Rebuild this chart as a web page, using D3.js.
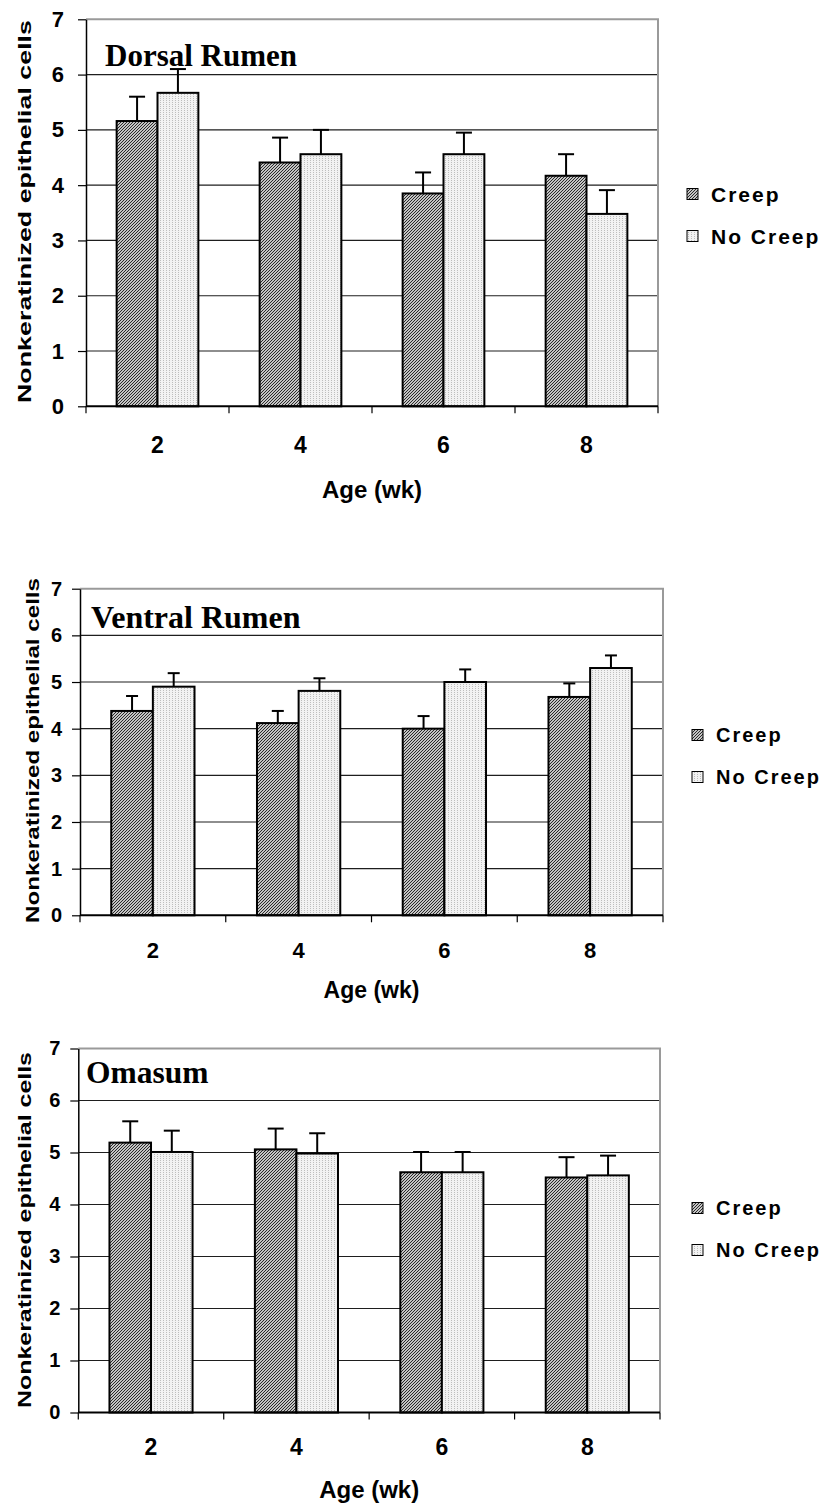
<!DOCTYPE html>
<html>
<head>
<meta charset="utf-8">
<script src="https://cdn.jsdelivr.net/npm/d3@7"></script>
<style>
  html, body { margin: 0; padding: 0; background: #fff; }
  svg { display: block; }
  text { font-family: "Liberation Sans", Arial, sans-serif; font-weight: bold; fill: #000; }
  .title { font-family: "Liberation Serif", "Times New Roman", serif; }
</style>
</head>
<body>
<svg id="chart" width="832" height="1503"></svg>
<script>
// Age groups and treatment series
const ages = ["2", "4", "6", "8"];
const series = ["Creep", "No Creep"];
const yTicks = [0, 1, 2, 3, 4, 5, 6, 7];

// Nonkeratinized epithelial cells, means and upper error (SE)
const dorsalCreep = [5.16, 4.41, 3.85, 4.17];
const dorsalCreepErr = [0.44, 0.45, 0.38, 0.39];
const dorsalNoCreep = [5.67, 4.56, 4.56, 3.48];
const dorsalNoCreepErr = [0.43, 0.44, 0.39, 0.43];

const ventralCreep = [4.38, 4.12, 4.00, 4.68];
const ventralCreepErr = [0.32, 0.26, 0.27, 0.29];
const ventralNoCreep = [4.90, 4.81, 5.00, 5.30];
const ventralNoCreepErr = [0.29, 0.27, 0.27, 0.27];

const omasumCreep = [5.19, 5.06, 4.62, 4.52];
const omasumCreepErr = [0.41, 0.40, 0.39, 0.39];
const omasumNoCreep = [5.01, 4.98, 4.62, 4.56];
const omasumNoCreepErr = [0.41, 0.39, 0.39, 0.38];

const titles = ["Dorsal Rumen", "Ventral Rumen", "Omasum"];
const yLabel = "Nonkeratinized epithelial cells";
const xLabel = "Age (wk)";

// Panel layout
const layouts = [
  { l: 86, r: 658, t: 19.3, b: 406.3, titleX: 105, titleY: 65.7, titleSize: 31,
    yLabX: 31, yLabFrom: 20, yLabTo: 403, yLabSize: 18, yTickSize: 22, yTickPad: 14,
    xTickY: 453, xTickSize: 23, xLabY: 498, xLabSize: 24,
    legX: 687, legY: [194, 236], legSize: 21, cap: 16 },
  { l: 80, r: 663, t: 588.7, b: 915.3, titleX: 91, titleY: 627.7, titleSize: 32,
    yLabX: 39, yLabFrom: 578, yLabTo: 923, yLabSize: 18, yTickSize: 20, yTickPad: 10,
    xTickY: 958, xTickSize: 22, xLabY: 998, xLabSize: 23,
    legX: 692, legY: [735, 777], legSize: 20, cap: 12 },
  { l: 78.3, r: 660, t: 1048.5, b: 1412.5, titleX: 86, titleY: 1082.7, titleSize: 31.5,
    yLabX: 31, yLabFrom: 1052, yLabTo: 1408, yLabSize: 19, yTickSize: 20, yTickPad: 10,
    xTickY: 1455, xTickSize: 23, xLabY: 1498, xLabSize: 24,
    legX: 692, legY: [1208, 1250], legSize: 20, cap: 16 }
];

const panelData = [
  [[dorsalCreep, dorsalCreepErr], [dorsalNoCreep, dorsalNoCreepErr]],
  [[ventralCreep, ventralCreepErr], [ventralNoCreep, ventralNoCreepErr]],
  [[omasumCreep, omasumCreepErr], [omasumNoCreep, omasumNoCreepErr]]
];

const svg = d3.select("#chart");
svg.append("rect").attr("width", 832).attr("height", 1503).attr("fill", "#fff");

// Fill patterns: fine dark diagonal hatch for Creep, light stipple for No Creep
const defs = svg.append("defs");
const hatch = defs.append("pattern").attr("id", "pat-creep")
  .attr("patternUnits", "userSpaceOnUse").attr("width", 3).attr("height", 3);
hatch.append("rect").attr("width", 3).attr("height", 3).attr("fill", "#c4c4c4");
hatch.append("path").attr("d", "M-1,1 L1,-1 M0,3 L3,0 M2,4 L4,2")
  .attr("stroke", "#2a2a2a").attr("stroke-width", 1);

const stip = defs.append("pattern").attr("id", "pat-nocreep")
  .attr("patternUnits", "userSpaceOnUse").attr("width", 3).attr("height", 2);
stip.append("rect").attr("width", 3).attr("height", 2).attr("fill", "#f2f2f2");
stip.append("rect").attr("x", 1).attr("y", 0).attr("width", 1).attr("height", 1).attr("fill", "#bdbdbd");

const fills = ["url(#pat-creep)", "url(#pat-nocreep)"];

layouts.forEach((L, pi) => {
  const g = svg.append("g");
  const y = d3.scaleLinear().domain([0, 7]).range([L.b, L.t]);
  const x0 = d3.scaleBand().domain(ages).range([L.l, L.r]).padding(0);
  const x1 = d3.scaleBand().domain(series).range([0, x0.bandwidth()])
    .paddingInner(0).paddingOuter(0.75);

  // Horizontal gridlines
  g.append("g").selectAll("line").data(yTicks.filter(v => v > 0 && v < 7)).join("line")
    .attr("x1", L.l).attr("x2", L.r)
    .attr("y1", d => y(d)).attr("y2", d => y(d))
    .attr("stroke", "#1e1e1e").attr("stroke-width", 1.2);

  // Plot-area border (top and right)
  g.append("path")
    .attr("d", `M${L.l},${y(7)} H${L.r} V${y(0)}`)
    .attr("fill", "none").attr("stroke", "#9a9a9a").attr("stroke-width", 2);

  // Bars
  const rows = [];
  panelData[pi].forEach(([vals, errs], si) => {
    vals.forEach((v, i) => rows.push({ age: ages[i], s: series[si], si, v, e: errs[i] }));
  });
  g.append("g").selectAll("rect").data(rows).join("rect")
    .attr("x", d => x0(d.age) + x1(d.s))
    .attr("y", d => y(d.v))
    .attr("width", x1.bandwidth())
    .attr("height", d => y(0) - y(d.v))
    .attr("fill", d => fills[d.si])
    .attr("stroke", "#000").attr("stroke-width", 2);

  // Error bars (upper)
  const eb = g.append("g").attr("stroke", "#000").attr("stroke-width", 2);
  eb.selectAll("line.v").data(rows).join("line").attr("class", "v")
    .attr("x1", d => x0(d.age) + x1(d.s) + x1.bandwidth() / 2)
    .attr("x2", d => x0(d.age) + x1(d.s) + x1.bandwidth() / 2)
    .attr("y1", d => y(d.v)).attr("y2", d => y(d.v + d.e));
  eb.selectAll("line.c").data(rows).join("line").attr("class", "c")
    .attr("x1", d => x0(d.age) + x1(d.s) + x1.bandwidth() / 2 - L.cap / 2)
    .attr("x2", d => x0(d.age) + x1(d.s) + x1.bandwidth() / 2 + L.cap / 2)
    .attr("y1", d => y(d.v + d.e)).attr("y2", d => y(d.v + d.e));

  // Y axis
  const yAxis = g.append("g").attr("transform", `translate(${L.l},0)`)
    .call(d3.axisLeft(y).tickValues(yTicks).tickFormat(d3.format("d"))
      .tickSize(8).tickSizeOuter(0).tickPadding(L.yTickPad));
  yAxis.attr("font-size", null).attr("font-family", null);
  yAxis.select(".domain").attr("stroke", "#000").attr("stroke-width", 1.5);
  yAxis.selectAll(".tick line").attr("stroke", "#000").attr("stroke-width", 1.2);
  yAxis.selectAll(".tick text")
    .style("font-family", '"Liberation Sans", Arial, sans-serif')
    .style("font-weight", "bold").style("font-size", L.yTickSize + "px")
    .attr("fill", "#000");

  // X axis line and category boundary ticks
  g.append("line").attr("x1", L.l).attr("x2", L.r).attr("y1", y(0)).attr("y2", y(0))
    .attr("stroke", "#000").attr("stroke-width", 2);
  const bounds = ages.map(a => x0(a)).concat([x0(ages[ages.length - 1]) + x0.bandwidth()]);
  g.append("g").selectAll("line").data(bounds).join("line")
    .attr("x1", d => d).attr("x2", d => d)
    .attr("y1", y(0)).attr("y2", y(0) + 7)
    .attr("stroke", "#000").attr("stroke-width", 1.2);

  // X tick labels
  g.append("g").selectAll("text").data(ages).join("text")
    .attr("x", d => x0(d) + x0.bandwidth() / 2)
    .attr("y", L.xTickY)
    .attr("text-anchor", "middle")
    .style("font-size", L.xTickSize + "px")
    .text(d => d);

  // Axis titles
  g.append("text")
    .attr("x", (L.l + L.r) / 2).attr("y", L.xLabY)
    .attr("text-anchor", "middle")
    .style("font-size", L.xLabSize + "px")
    .text(xLabel);

  g.append("text")
    .attr("transform", `translate(${L.yLabX},${(L.yLabFrom + L.yLabTo) / 2}) rotate(-90)`)
    .attr("text-anchor", "middle")
    .attr("textLength", L.yLabTo - L.yLabFrom)
    .attr("lengthAdjust", "spacingAndGlyphs")
    .style("font-size", L.yLabSize + "px")
    .text(yLabel);

  // Panel title
  g.append("text").attr("class", "title")
    .attr("x", L.titleX).attr("y", L.titleY)
    .style("font-size", L.titleSize + "px")
    .text(titles[pi]);

  // Legend
  const leg = g.append("g");
  series.forEach((s, si) => {
    const cy = L.legY[si];
    leg.append("rect")
      .attr("x", L.legX).attr("y", cy - 5.5)
      .attr("width", 11).attr("height", 11)
      .attr("fill", fills[si]).attr("stroke", "#000").attr("stroke-width", 1);
    leg.append("text")
      .attr("x", L.legX + 24).attr("y", cy)
      .attr("dy", "0.36em")
      .style("font-size", L.legSize + "px")
      .style("letter-spacing", "2px")
      .text(s);
  });
});
</script>
</body>
</html>
